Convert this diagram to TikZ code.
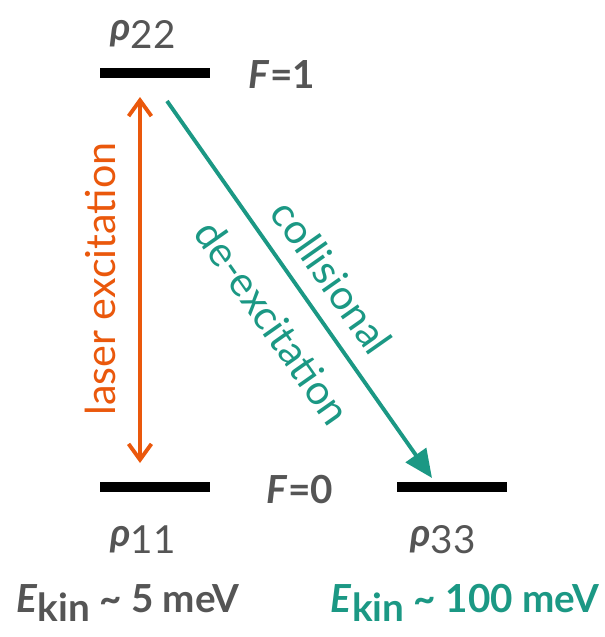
\documentclass[tikz,border=0pt]{standalone}
\usepackage{fontspec}
\setmainfont{Lato}
\usetikzlibrary{arrows.meta}

\definecolor{laserorange}{RGB}{234,88,12}
\definecolor{collteal}{RGB}{27,152,132}
\definecolor{txtgray}{RGB}{85,85,85}

\tikzset{
  level/.style={fill=black, inner sep=0pt, minimum width=2.2cm, minimum height=0.2cm},
  lbl/.style={text=txtgray, font=\fontsize{22}{26}\selectfont\bfseries, inner sep=0pt},
  arrlbl/.style={font=\fontsize{23.5}{28}\selectfont, inner sep=0pt}
}

\begin{document}
\begin{tikzpicture}[x=0.02cm, y=-0.02cm]
  \useasboundingbox (0,0) rectangle (605,637);

  % Energy levels
  \node[level] (l2) at (155,73)  {};
  \node[level] (l1) at (155,487) {};
  \node[level] (l3) at (452,487) {};

  % Level labels
  \node[lbl] (r22) at (143,34)  {\textit{ρ}\textmd{\raisebox{-0.4ex}{22}}};
  \node[lbl] (r11) at (143,540) {\textit{ρ}\textmd{\raisebox{-0.4ex}{11}}};
  \node[lbl] (r33) at (443,540) {\textit{ρ}\textmd{\raisebox{-0.4ex}{33}}};
  \node[lbl] (f1) at (282,75)  {\textit{F}=1};
  \node[lbl] (f0) at (300,490) {\textit{F}=0};

  % Kinetic energies
  \node[lbl] (ek1) at (128,603) {\textit{E}\raisebox{-0.45ex}{kin} \textasciitilde\ 5 meV};
  \node[lbl, text=collteal] (ek3) at (465,603) {\textit{E}\raisebox{-0.45ex}{kin} \textasciitilde\ 100 meV};

  % Laser excitation (both ways)
  \coordinate (lup) at (140,97);
  \coordinate (ldn) at (140,463);
  \draw[{Straight Barb[length=9pt,width=13pt]}-{Straight Barb[length=9pt,width=13pt]}, line width=2.2pt, laserorange] (ldn) -- (lup);
  \node[arrlbl, text=laserorange, rotate=90] (laser) at (100,279) {laser excitation};

  % Collisional de-excitation
  \coordinate (cstart) at (167,101);
  \coordinate (cend) at (432,478);
  \draw[-{Triangle[length=16pt,width=14pt]}, line width=2.2pt, collteal] (cstart) -- (cend);
  \node[arrlbl, text=collteal, rotate=-54.9] (coll) at (332,277) {collisional};
  \node[arrlbl, text=collteal, rotate=-54.9] (deex) at (273,322) {de-excitation};

\end{tikzpicture}
\end{document}
